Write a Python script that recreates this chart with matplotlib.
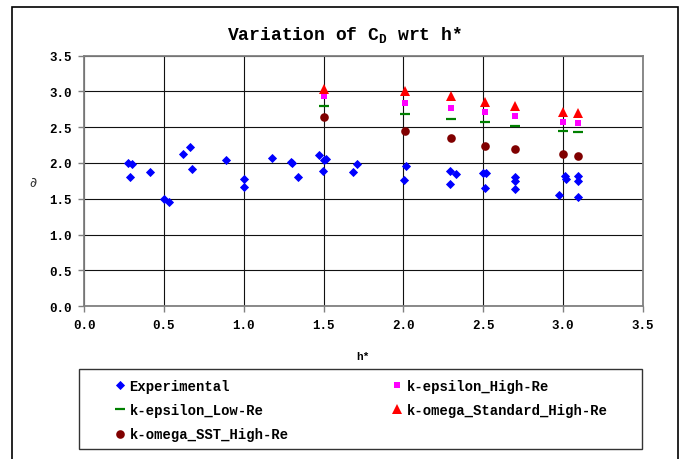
import matplotlib.pyplot as plt
from matplotlib.patches import Rectangle

plt.rcParams["mathtext.fontset"] = "custom"
plt.rcParams["mathtext.rm"] = "Liberation Mono:bold"

# experimental points
exp_h = [0.277, 0.298, 0.29, 0.4125, 0.502, 0.535, 0.619, 0.6625, 0.679, 0.889,
         1.0, 1.0, 1.175, 1.296, 1.304, 1.3375, 1.469, 1.494, 1.5, 1.517, 1.685, 1.71,
         2.004, 2.017, 2.29, 2.294, 2.327, 2.5, 2.52, 2.51, 2.70, 2.70, 2.70,
         2.977, 3.01, 3.02, 3.09, 3.095, 3.09]
exp_cd = [2.0, 1.98, 1.80, 1.876, 1.503, 1.452, 2.12, 2.22, 1.92, 2.04,
          1.77, 1.66, 2.075, 2.02, 2.0, 1.806, 2.11, 1.885, 2.04, 2.057, 1.876, 1.98,
          1.76, 1.955, 1.712, 1.89, 1.852, 1.857, 1.866, 1.652, 1.81, 1.745, 1.64,
          1.555, 1.824, 1.77, 1.815, 1.746, 1.53]

# CFD results
cfd_h = [1.5, 2.01, 2.3, 2.51, 2.70, 3.0, 3.09]
ke_high = [2.94, 2.84, 2.77, 2.71, 2.65, 2.57, 2.56]
ke_low = [2.80, 2.69, 2.616, 2.57, 2.51, 2.44, 2.43]
kw_std = [3.035, 3.01, 2.93, 2.857, 2.80, 2.71, 2.695]
kw_sst = [2.64, 2.45, 2.355, 2.24, 2.20, 2.12, 2.095]

labels = ["Experimental", "k-epsilon_High-Re", "k-epsilon_Low-Re",
          "k-omega_Standard_High-Re", "k-omega_SST_High-Re"]

mono = "Liberation Mono"
W, H = 684, 460

fig = plt.figure(figsize=(6.84, 4.60), dpi=100)
ax = fig.add_axes([84 / W, 1 - 307.3 / H, (643 - 84) / W, (307.3 - 56.5) / H])

p_exp, = ax.plot(exp_h, exp_cd, "D", color="#0000FF", ms=3.6, mew=0.6, ls="none", zorder=3)
p_keh, = ax.plot(cfd_h, ke_high, "s", color="#FF00FF", ms=5, mew=0, ls="none", zorder=3)
p_kel, = ax.plot(cfd_h, ke_low, "_", color="#008000", ms=6.5, mew=1.6, ls="none", zorder=3)
p_kws, = ax.plot(cfd_h, kw_std, "^", color="#FF0000", ms=7, mew=0, ls="none", zorder=3)
p_sst, = ax.plot(cfd_h, kw_sst, "o", color="#800000", ms=6.2, mew=0, ls="none", zorder=3)

ax.set_xlim(0, 3.5)
ax.set_ylim(0, 3.5)
ticks = [0.0, 0.5, 1.0, 1.5, 2.0, 2.5, 3.0, 3.5]
ax.set_xticks(ticks)
ax.set_yticks(ticks)
ax.set_xticklabels([f"{t:.1f}" for t in ticks], fontfamily=mono, fontweight="bold", fontsize=9)
ax.set_yticklabels([f"{t:.1f}" for t in ticks], fontfamily=mono, fontweight="bold", fontsize=9)
ax.tick_params(direction="out", length=4, width=1, color="#808080", pad=5)
ax.grid(True, color="#111111", lw=0.8)
ax.set_axisbelow(True)
for s in ax.spines.values():
    s.set_color("#808080")
    s.set_linewidth(1.3)

fig.text(345 / W, 1 - 35 / H, r"Variation of C$_{\mathrm{D}}$ wrt h*", ha="center", va="center",
         fontfamily=mono, fontweight="bold", fontsize=13)
fig.text(363 / W, 1 - 357 / H, "h*", ha="center", va="center",
         fontfamily=mono, fontweight="bold", fontsize=8)
fig.text(33 / W, 1 - 183 / H, "\u2202", ha="center", va="center",
         fontfamily="DejaVu Sans", fontsize=10, color="#333333")

# chart border and legend box
fig.patches.append(Rectangle((12 / W, -0.05), (678 - 12) / W, 1.05 - 8 / H,
                             transform=fig.transFigure, fill=False, ec="black", lw=1.2))
fig.patches.append(Rectangle((78.5 / W, 1 - 450 / H), (642 - 78.5) / W, 80 / H,
                             transform=fig.transFigure, fill=False, ec="#333333", lw=1.0))

handles = [p_exp, p_kel, p_sst, p_keh, p_kws]
hl = [labels[0], labels[2], labels[4], labels[1], labels[3]]
leg = fig.legend(handles, hl, ncol=2, mode="expand", frameon=False,
                 bbox_to_anchor=(110 / W, 1 - 452 / H, (612 - 110) / W, 82 / H),
                 loc="center", borderaxespad=0, borderpad=0.3,
                 handlelength=0.8, handletextpad=0.3, labelspacing=0.75,
                 prop={"family": mono, "weight": "bold", "size": 10}, numpoints=1)

fig.savefig("out.png", dpi=100)
